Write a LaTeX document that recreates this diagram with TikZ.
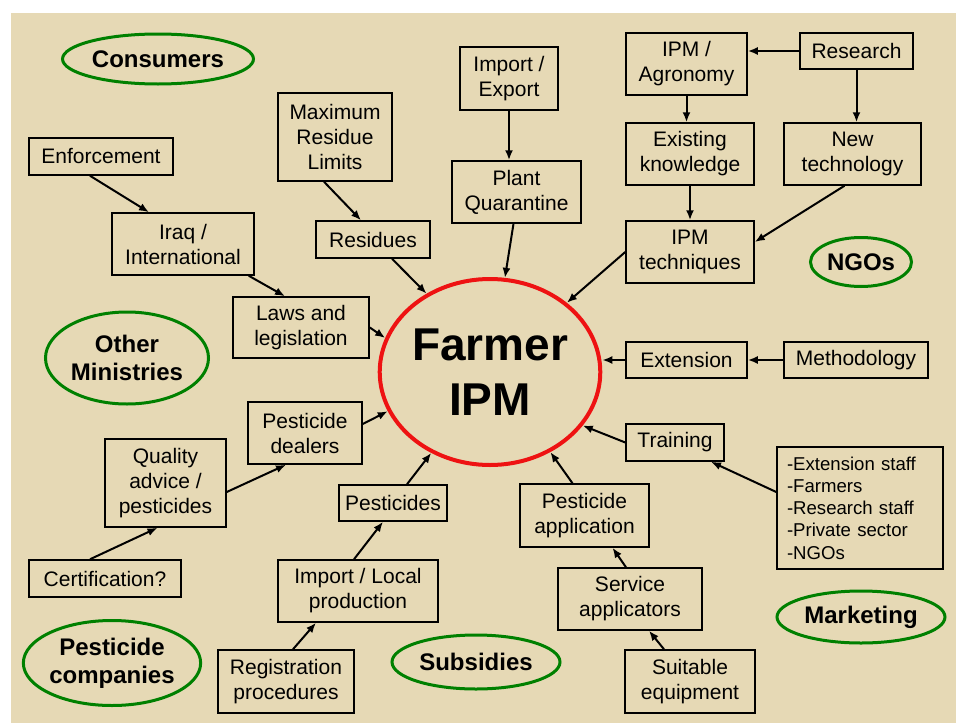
\documentclass[tikz,border=0pt]{standalone}
\usepackage{fontspec}
\setmainfont{Liberation Sans}
\usetikzlibrary{arrows.meta,positioning,calc,shapes.geometric}
\definecolor{parchment}{RGB}{230,217,181}
\definecolor{actorgreen}{RGB}{0,128,0}
\definecolor{farmred}{RGB}{238,18,18}

\begin{document}
\begin{tikzpicture}[x=1pt,y=-1pt,box/.style={draw=black,line width=1.5pt,inner sep=0pt,align=center,font=\fontsize{21}{25}\selectfont},sz/.style 2 args={minimum width=#1pt,minimum height=#2pt},actor/.style={ellipse,draw=actorgreen,line width=3pt,inner sep=0pt,align=center,font=\fontsize{24}{28}\selectfont\bfseries},arr/.style={-{Latex[length=10pt,width=8pt]},line width=2pt}]
\useasboundingbox (0,0) rectangle (956,723);
\fill[parchment] (11,13) rectangle (956,723);
% centre
\node[ellipse,draw=farmred,line width=4pt,minimum width=202pt,minimum height=186pt,inner sep=0pt,align=center,font=\fontsize{46}{55}\selectfont\bfseries] (farmer) at (490,372) {Farmer\\IPM};
% actors round the edge
\node[actor,sz={191}{50}] (cons) at (158,59) {Consumers};
\node[actor,sz={101}{49}] (ngo) at (861,262) {NGOs};
\node[actor,sz={163}{92}] (othmin) at (127,358) {Other\\Ministries};
\node[actor,sz={168}{52}] (market) at (861,617) {Marketing};
\node[actor,sz={165}{85}] (comp) at (112,663) {Pesticide\\companies};
\node[actor,sz={168}{54}] (subs) at (476,662) {Subsidies};
% upper left
\node[box,sz={144}{37}] (enf) at (101,156.5) {Enforcement};
\node[box,sz={142}{62}] (iraq) at (183,244) {Iraq /\\International};
\node[box,sz={136}{61}] (laws) at (301,327.5) {Laws and\\legislation};
\node[box,sz={114}{88}] (mrl) at (335,137) {Maximum\\Residue\\Limits};
\node[box,sz={114}{37}] (res) at (373,239.5) {Residues};
\node[box,sz={98}{63}] (impexp) at (509,78.5) {Import /\\Export};
\node[box,sz={129}{62}] (plant) at (516.5,192) {Plant\\Quarantine};
% upper right
\node[box,sz={121}{62}] (agro) at (686.5,64) {IPM /\\Agronomy};
\node[box,sz={113}{36}] (research) at (856.5,51) {Research};
\node[box,sz={128}{62}] (exist) at (690,154) {Existing\\knowledge};
\node[box,sz={137}{62}] (newtech) at (852.5,154) {New\\technology};
\node[box,sz={128}{62}] (tech) at (690,252) {IPM\\techniques};
\node[box,sz={121}{36}] (ext) at (686.5,360) {Extension};
\node[box,sz={144}{36}] (meth) at (856,360) {Methodology};
\node[box,sz={98}{37}] (train) at (675,442.5) {Training};
\node[box,minimum height=122pt,text width=146pt,inner xsep=10pt,align=left,font=\fontsize{18.6}{22.3}\selectfont] (list) at (860,508) {-Extension staff\\-Farmers\\-Research staff\\-Private sector\\-NGOs};
% lower half
\node[box,sz={114}{62}] (dealers) at (305,433) {Pesticide\\dealers};
\node[box,sz={121}{88}] (quality) at (165.5,483) {Quality\\advice /\\pesticides};
\node[box,sz={152}{37}] (cert) at (105,578.5) {Certification?};
\node[box,sz={108}{36}] (pest) at (393,503) {Pesticides};
\node[box,sz={160}{62}] (implocal) at (358,591) {Import / Local\\production};
\node[box,sz={136}{63}] (regis) at (286,681.5) {Registration\\procedures};
\node[box,sz={129}{63}] (pestapp) at (584.5,515.5) {Pesticide\\application};
\node[box,sz={144}{62}] (service) at (630,599) {Service\\applicators};
\node[box,sz={130}{63}] (equip) at (690,681.5) {Suitable\\equipment};
% links
\draw[arr] ($(enf.south)+(-11,0)$) -- ($(iraq.north)+(-34,0)$); \draw[arr] ($(iraq.south east)+(-6,0)$) -- ($(laws.north)+(-16,0)$); \draw[arr] (laws.east) -- (farmer.162);
\draw[arr] ($(mrl.south)+(-11,0)$) -- ($(res.north)+(-12,0)$); \draw[arr] ($(res.south)+(19,0)$) -- (farmer.129);
\draw[arr] (impexp.south) -- (impexp.south |- plant.north); \draw[arr] ($(plant.south)+(-3,0)$) -- (farmer.81);
\draw[arr] (research.west) -- (research.west -| agro.east); \draw[arr] (research.south) -- (research.south |- newtech.north);
\draw[arr] (agro.south) -- (agro.south |- exist.north); \draw[arr] (exist) -- (tech); \draw[arr] ($(newtech.south)+(-8,0)$) -- ($(tech.east)+(0,-10)$);
\draw[arr] (tech.west) -- (farmer.42);
\draw[arr] (meth) -- (ext); \draw[arr] (ext.west) -- (ext.west -| farmer.east);
\draw[arr] ($(list.west)+(0,-16)$) -- ($(train.south)+(36,0)$); \draw[arr] (train.west) -- (farmer.330);
\draw[arr] ($(cert.north)+(-15,0)$) -- ($(quality.south)+(-8,0)$); \draw[arr] ($(quality.east)+(0,9)$) -- ($(dealers.south)+(-19,0)$); \draw[arr] ($(dealers.east)+(0,-9)$) -- (farmer.201);
\draw[arr] ($(regis.north)+(7,0)$) -- ($(implocal.south)+(-42,0)$); \draw[arr] ($(implocal.north)+(-4,0)$) -- ($(pest.south)+(-10,0)$); \draw[arr] ($(pest.north)+(14,0)$) -- (farmer.234);
\draw[arr] ($(equip.north)+(-26,0)$) -- ($(service.south)+(19,0)$); \draw[arr] ($(service.north)+(-4,0)$) -- ($(pestapp.south)+(28,0)$); \draw[arr] ($(pestapp.north)+(-12,0)$) -- (farmer.307);
\end{tikzpicture}
\end{document}
